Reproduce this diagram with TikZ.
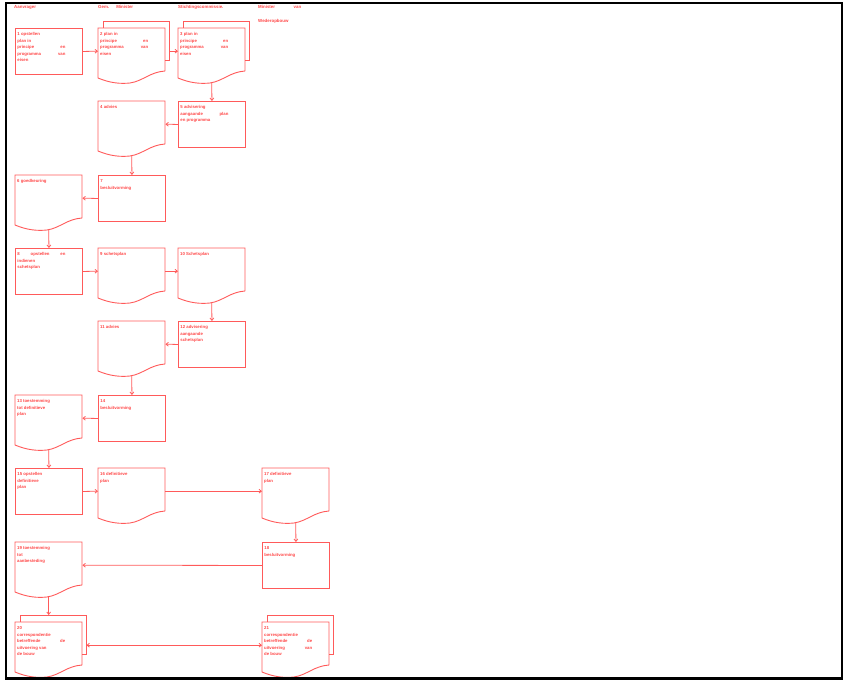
\documentclass[tikz,border=0pt]{standalone}
\usepackage{fontspec}
\setmainfont{Liberation Sans}
% red text set by the font itself, so that no colour specials reach the page
\newfontfamily\redfont[Color=FF4747]{Liberation Sans}
\usepackage{tikz}
\usetikzlibrary{calc,arrows.meta}
\definecolor{flowLine}{HTML}{FF5A5A}
\newcommand{\boxfont}{\redfont\fontsize{4.3pt}{6.5pt}\selectfont\bfseries}
\newcommand{\headfont}{\redfont\fontsize{4.4pt}{6.5pt}\selectfont\bfseries}
% document outline with wavy bottom, drawn round a named node
\newcommand{\docoutline}[1]{%
  \begin{scope}[shift={(#1.north west)}]
    \draw[flowline] (67,43) -- (67,0) -- (0,0) -- (0,50)
      .. controls (12,55) and (22,56) .. (32,55)
      .. controls (45,53) and (52,44) .. (67,43);
  \end{scope}}
% second sheet behind a document
\newcommand{\stackoutline}[1]{%
  \begin{scope}[shift={(#1.north west)}]
    \draw[flowline] (67,32) -- (71,32) -- (71,-7) -- (5,-7) -- (5,0);
  \end{scope}}

\begin{document}
\begin{tikzpicture}[x=1pt, y=-1pt,
        >={Straight Barb[length=2.4pt,width=3.8pt]},
        flowline/.style={draw=flowLine, line width=0.9pt},
        docbox/.style={anchor=north west, font=\boxfont, text width=63pt, align=justify,
            inner xsep=2pt, inner ysep=4.3pt, text height=3.2pt, text depth=34.2pt,
            execute at begin node={\rightskip=15pt\relax}},
        box/.style={docbox, flowline},
        head/.style={anchor=north west, font=\headfont, inner sep=0pt, align=left},
        arr/.style={->, draw=flowLine, line width=0.8pt}
    ]
        \useasboundingbox (0,0) rectangle (846,681);

        % --- column heads ---
        \node[head] (h1) at (14,5.5) {Aanvrager};
        \node[head] (h2) at (98,5.5) {\makebox[35pt][s]{Gem. Minister}};
        \node[head] (h3) at (178,5.5) {Stichtingscommissie.};
        \node[head] (h4) at (258,5.5) {\makebox[43pt][s]{Minister van}\\[7pt]Wederopbouw};

        % --- plan in principe ---
        \node[box] (b1) at (15,28) {1 opstellen\\plan in\\principe en\linebreak programma van\linebreak eisen};
        \node[docbox] (b2) at (98,28) {2 plan in\\principe en\linebreak programma van\linebreak eisen};
        \node[docbox] (b3) at (178,28) {3 plan in\\principe en\linebreak programma van\linebreak eisen};
        \node[docbox] (b4) at (98,101) {4 advies};
        \node[box] (b5) at (178,101) {5 advisering\\aangaande plan\linebreak en programma};
        \node[docbox] (b6) at (15,175) {6 goedkeuring};
        \node[box] (b7) at (98,175) {7\\besluitvorming};

        % --- schetsplan ---
        \node[box] (b8) at (15,248) {8 opstellen en\linebreak indienen\\schetsplan};
        \node[docbox] (b9) at (98,248) {9 schetsplan};
        \node[docbox] (b10) at (178,248) {10 Schetsplan};
        \node[docbox] (b11) at (98,321) {11 advies};
        \node[box] (b12) at (178,321) {12 advisering\\aangaande\\schetsplan};
        \node[docbox] (b13) at (15,395) {13 toestemming\\tot definitieve\\plan};
        \node[box] (b14) at (98,395) {14\\besluitvorming};

        % --- definitieve plan and uitvoering ---
        \node[box] (b15) at (15,468) {15 opstellen\\definitieve\\plan};
        \node[docbox] (b16) at (98,468) {16 definitieve\\plan};
        \node[docbox] (b17) at (262,468) {17 definitieve\\plan};
        \node[box] (b18) at (262,542) {18\\besluitvorming};
        \node[docbox] (b19) at (15,542) {19 toestemming\\tot\\aanbesteding};
        \node[docbox] (b20) at (15,622) {20\\correspondentie\\betreffende de\linebreak uitvoering van\\de bouw};
        \node[docbox] (b21) at (262,622) {21\\correspondentie\\betreffende de\linebreak uitvoering van\linebreak de bouw};

        \foreach \d in {b2,b3,b4,b6,b9,b10,b11,b13,b16,b17,b19,b20,b21}
            {\docoutline{\d}}
        \foreach \d in {b2,b3,b20,b21}
            {\stackoutline{\d}}

        % --- flow ---
        \draw[arr] (b1.east) -- (b2.west);
        \draw[arr] ($(b2.east)+(4,0)$) -- (b3.west);
        \draw[arr] ($(b3.south)+(0,8)$) -- (b5.north);
        \draw[arr] (b5.west) -- (b4.east);
        \draw[arr] ($(b4.south)+(0,8)$) -- (b7.north);
        \draw[arr] (b7.west) -- (b6.east);
        \draw[arr] ($(b6.south)+(0,8)$) -- (b8.north);
        \draw[arr] (b8.east) -- (b9.west);
        \draw[arr] (b9.east) -- (b10.west);
        \draw[arr] ($(b10.south)+(0,8)$) -- (b12.north);
        \draw[arr] (b12.west) -- (b11.east);
        \draw[arr] ($(b11.south)+(0,8)$) -- (b14.north);
        \draw[arr] (b14.west) -- (b13.east);
        \draw[arr] ($(b13.south)+(0,8)$) -- (b15.north);
        \draw[arr] (b15.east) -- (b16.west);
        \draw[arr] (b16.east) -- (b17.west);
        \draw[arr] ($(b17.south)+(0,8)$) -- (b18.north);
        \draw[arr] (b18.west) -- (b19.east);
        \draw[arr] ($(b19.south)+(0,8)$) -- ($(b20.north)+(0,-7)$);
        \draw[arr, <->] ($(b20.east)+(4,0)$) -- (b21.west);

        % --- page frame ---
        \draw[line width=2.8pt] (6,3) rectangle (842,678.5);
    \end{tikzpicture}
\end{document}
